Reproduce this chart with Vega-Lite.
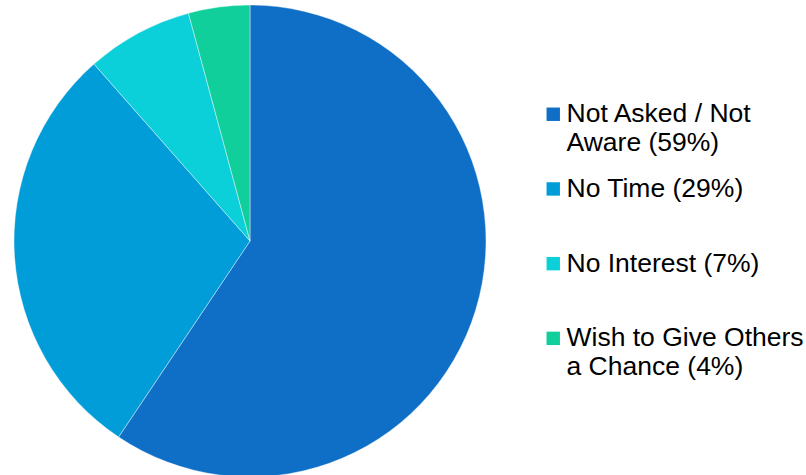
{
  "$schema": "https://vega.github.io/schema/vega-lite/v6.json",
  "width": 500,
  "height": 482,
  "padding": {"left": 0, "top": 0, "right": 306, "bottom": 0},
  "autosize": {"type": "none"},
  "background": "#ffffff",
  "view": {"stroke": null},
  "data": {
    "values": [
      {"reason": "Not Asked / Not Aware (59%)", "share": 59.4, "rank": 1},
      {"reason": "No Time (29%)", "share": 29.1, "rank": 2},
      {"reason": "No Interest (7%)", "share": 7.3, "rank": 3},
      {"reason": "Wish to Give Others a Chance (4%)", "share": 4.2, "rank": 4}
    ]
  },
  "mark": {"type": "arc", "outerRadius": 236, "stroke": "#ffffff", "strokeWidth": 0.4},
  "encoding": {
    "theta": {"field": "share", "type": "quantitative", "stack": true},
    "order": {"field": "rank", "type": "quantitative", "sort": "ascending"},
    "color": {
      "field": "reason",
      "type": "nominal",
      "sort": null,
      "scale": {
        "domain": ["Not Asked / Not Aware (59%)", "No Time (29%)", "No Interest (7%)", "Wish to Give Others a Chance (4%)"],
        "range": ["#0F6FC6", "#009DD9", "#0BD0D9", "#10CF9B"]
      },
      "legend": {
        "title": null,
        "orient": "none",
        "legendX": 540,
        "legendY": 101,
        "symbolType": "square",
        "symbolSize": 180,
        "symbolStrokeWidth": 0,
        "labelFont": "Liberation Sans",
        "labelFontSize": 26.5,
        "labelColor": "#000000",
        "labelLimit": 400,
        "labelOffset": 0,
        "rowPadding": 18.7,
        "gridAlign": "all",
        "labelExpr": "datum.label == 'Not Asked / Not Aware (59%)' ? ['Not Asked / Not', 'Aware (59%)'] : datum.label == 'Wish to Give Others a Chance (4%)' ? ['Wish to Give Others', 'a Chance (4%)'] : datum.label",
        "encode": {"labels": {"update": {"lineHeight": {"value": 29.5}}}}
      }
    }
  }
}
